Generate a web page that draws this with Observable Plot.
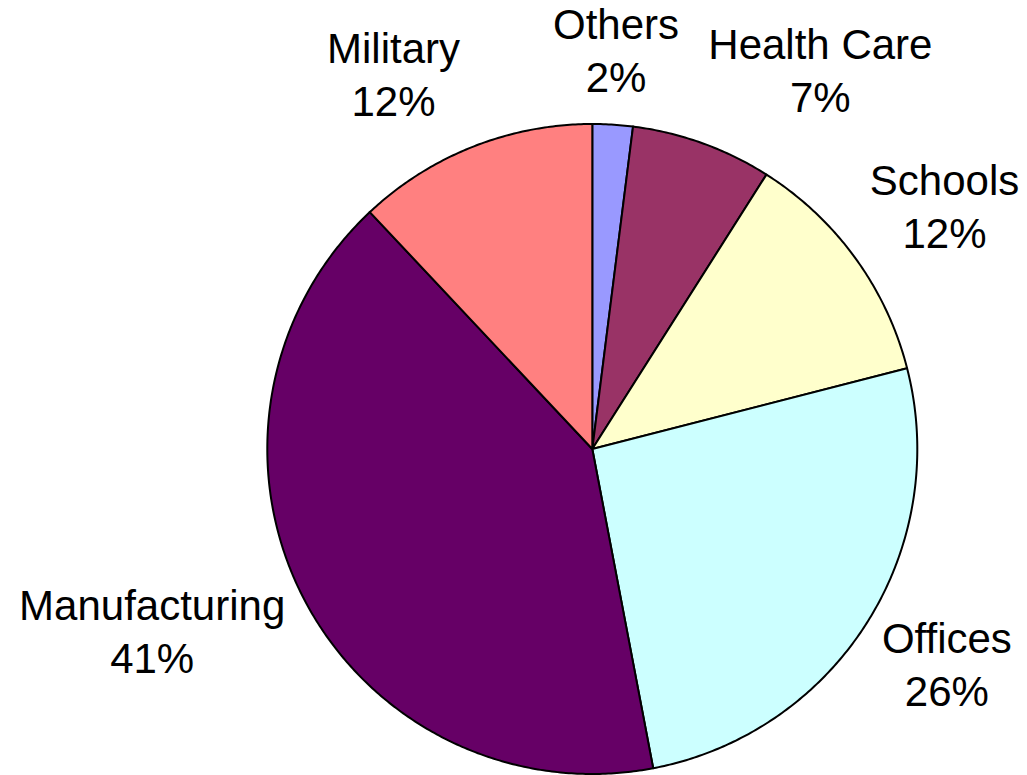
<!DOCTYPE html>
<html><head><meta charset="utf-8">
<script src="https://cdn.jsdelivr.net/npm/d3@7"></script>
<script src="https://cdn.jsdelivr.net/npm/@observablehq/plot@0.6"></script>
<style>html,body{margin:0;padding:0;background:#fff;} svg{display:block;}</style>
</head><body><div id="chart"></div>
<script>
const categories = ["Others", "Health Care", "Schools", "Offices", "Manufacturing", "Military"];
const shares = [2, 7, 12, 26, 41, 12];
const colors = ["#9999FF", "#993366", "#FFFFCC", "#CCFFFF", "#660066", "#FF8080"];

const W = 1027, H = 775, CX = 591.8, CY = 448.5, R = 325, GX = 18, GY = 30, FS = 42, LH = 53 / 42;
const FONT = '"Liberation Sans", Arial, Helvetica, sans-serif';

const pie = d3.pie().sort(null).value(d => d.v)(categories.map((c, i) => ({c, v: shares[i]})));

const slicePts = [];
pie.forEach(p => {
  const n = Math.max(2, Math.ceil((p.endAngle - p.startAngle) / (Math.PI / 360)));
  slicePts.push({c: p.data.c, x: 0, y: 0});
  for (let k = 0; k <= n; k++) {
    const a = p.startAngle + (p.endAngle - p.startAngle) * k / n;
    slicePts.push({c: p.data.c, x: R * Math.sin(a), y: R * Math.cos(a)});
  }
  slicePts.push({c: p.data.c, x: 0, y: 0});
});

const ctx = document.createElement("canvas").getContext("2d");
ctx.font = `${FS}px ${FONT}`;
const clamp = v => Math.max(-1, Math.min(1, v));
const labels = pie.map(p => {
  const a = (p.startAngle + p.endAngle) / 2, s = Math.sin(a), c = Math.cos(a);
  const lines = [p.data.c, p.data.v + "%"];
  const hw = Math.max(...lines.map(t => ctx.measureText(t).width || t.length * FS * 0.55)) / 2;
  const hh = 41.5;
  return {
    text: lines.join("\n"),
    x: (R + GX) * s + hw * clamp(8.7 * s * Math.abs(s)) - (s < 0 ? 7 * c * c : 0),
    y: (R + GY) * c + hh * clamp(1.27 * c) + 4.5
  };
});

const chart = Plot.plot({
  width: W, height: H, margin: 0,
  style: {fontFamily: FONT, background: "white"},
  x: {domain: [-CX, W - CX], axis: null},
  y: {domain: [-(H - CY), CY], axis: null},
  color: {domain: categories, range: colors},
  marks: [
    Plot.line(slicePts, {x: "x", y: "y", z: "c", fill: "c", stroke: "black", strokeWidth: 2, strokeLinejoin: "round", curve: "linear"}),
    Plot.text(labels, {x: "x", y: "y", text: "text", fontSize: FS, lineHeight: LH, fill: "black", textAnchor: "middle", lineAnchor: "middle"})
  ]
});
document.getElementById("chart").appendChild(chart);
</script>
</body></html>
